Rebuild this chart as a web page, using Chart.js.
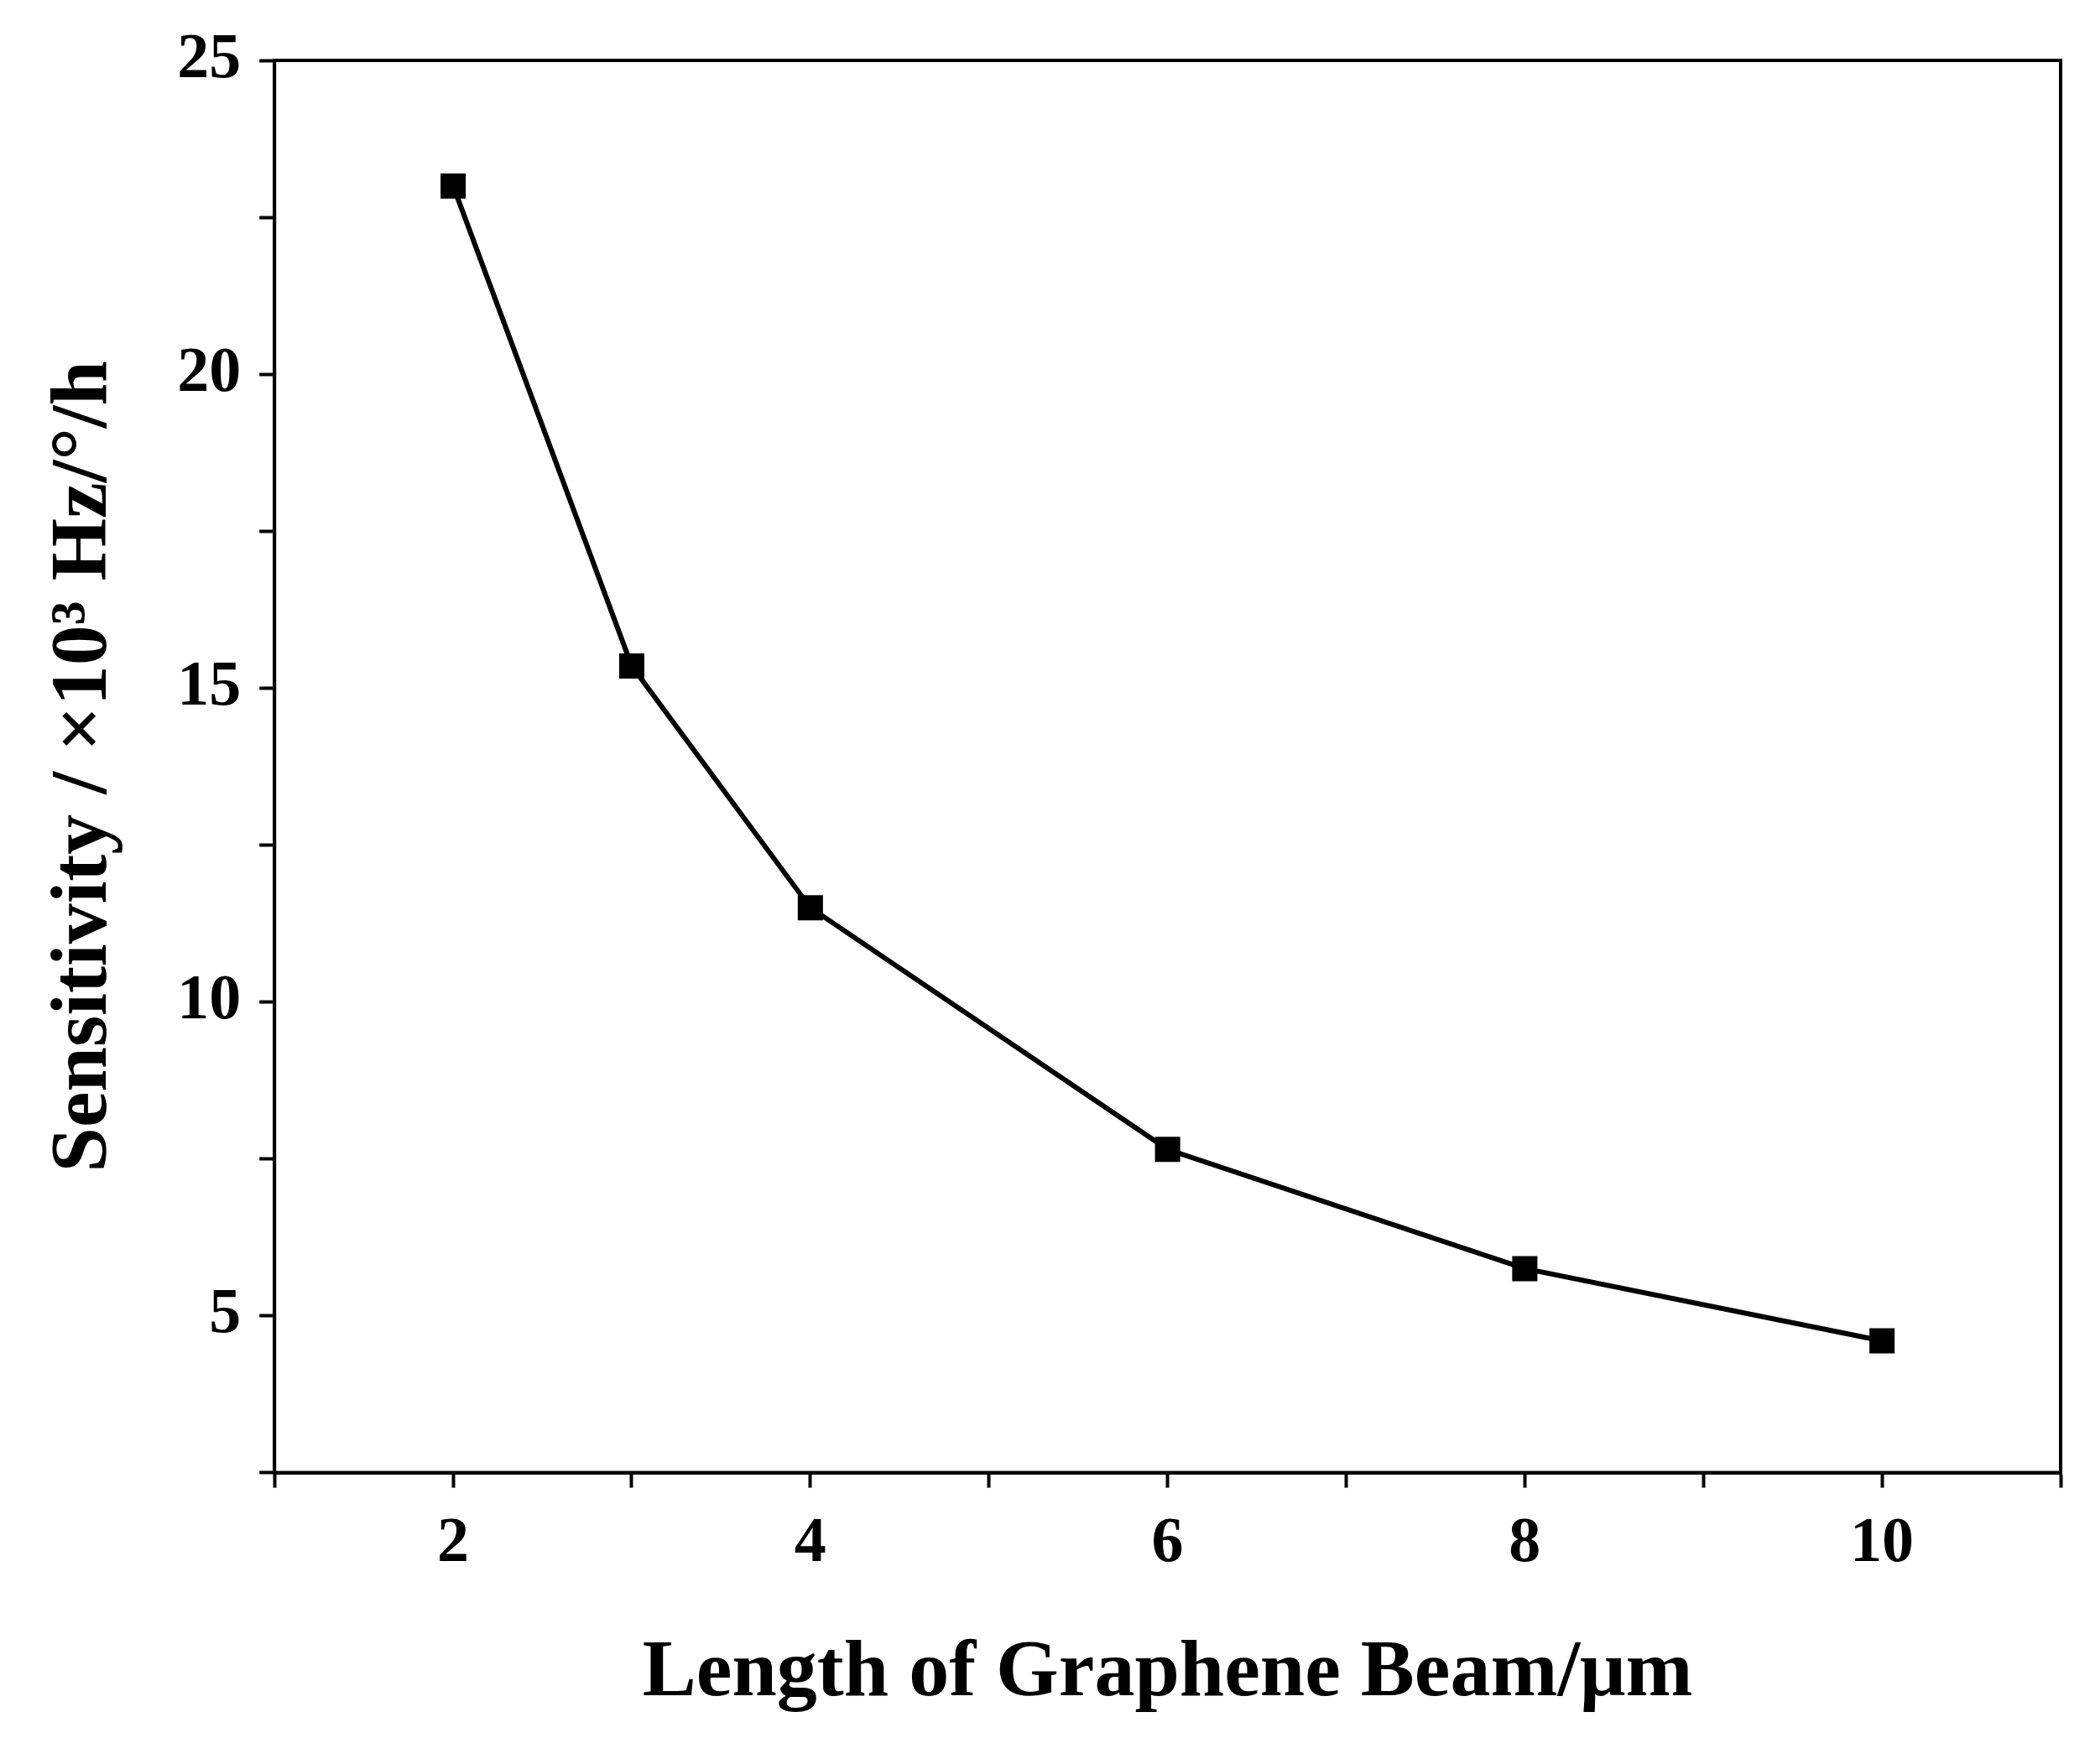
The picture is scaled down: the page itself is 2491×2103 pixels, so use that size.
<!DOCTYPE html>
<html lang="en">
<head>
<meta charset="UTF-8" />
<title>Sensitivity vs beam length</title>
<script src="https://cdn.jsdelivr.net/npm/chart.js@4.4.0/dist/chart.umd.min.js"></script>
<style>
  html,body{margin:0;padding:0;background:#fff;}
  #wrap{width:2491px;height:2103px;}
</style>
</head>
<body>
<div id="wrap"><canvas id="chart"></canvas></div>
<script>
  const lengths = [2, 3, 4, 6, 8, 10];
  const sensitivity = [23.0, 15.35, 11.5, 7.65, 5.75, 4.6];
  const xTitle = 'Length of Graphene Beam/\u03bcm';
  const yTitle = 'Sensitivity / \u00d710\u00b3 Hz/\u00b0/h';

  const font = 'Liberation Serif';

  // frame on top and right of the plot area
  const frame = {
    id: 'frame',
    afterDraw(chart) {
      const { ctx, chartArea: a } = chart;
      ctx.save();
      ctx.strokeStyle = '#000';
      ctx.lineWidth = 4;
      ctx.strokeRect(a.left, a.top, a.right - a.left, a.bottom - a.top);
      ctx.restore();
    }
  };

  new Chart(document.getElementById('chart'), {
    type: 'line',
    data: {
      datasets: [{
        data: lengths.map((x, i) => ({ x, y: sensitivity[i] })),
        borderColor: '#000',
        backgroundColor: '#000',
        borderWidth: 6,
        pointStyle: 'rect',
        pointRadius: 17,
        tension: 0
      }]
    },
    options: {
      responsive: true,
      maintainAspectRatio: false,
      animation: false,
      layout: { padding: { left: 40, top: 72, right: 35, bottom: 45 } },
      plugins: { legend: { display: false }, tooltip: { enabled: false } },
      scales: {
        x: {
          type: 'linear', min: 1, max: 11,
          border: { color: '#000', width: 4 },
          grid: { drawOnChartArea: false, drawTicks: true, tickLength: 18, tickWidth: 4, color: '#000' },
          ticks: {
            stepSize: 1, color: '#000', padding: 22,
            font: { family: font, size: 76, weight: 'bold' },
            callback: v => (v % 2 === 0 ? v : '')
          },
          title: { display: true, text: xTitle, color: '#000', padding: { top: 30 },
                   font: { family: font, size: 96, weight: 'bold' } }
        },
        y: {
          min: 2.5, max: 25,
          border: { color: '#000', width: 4 },
          grid: { drawOnChartArea: false, drawTicks: true, tickLength: 18, tickWidth: 4, color: '#000' },
          ticks: {
            stepSize: 2.5, color: '#000', padding: 22,
            font: { family: font, size: 76, weight: 'bold' },
            callback: v => (v % 5 === 0 ? v : '')
          },
          title: { display: true, text: yTitle, color: '#000', padding: { bottom: 30 },
                   font: { family: font, size: 96, weight: 'bold' } }
        }
      }
    },
    plugins: [frame]
  });
</script>
</body>
</html>
